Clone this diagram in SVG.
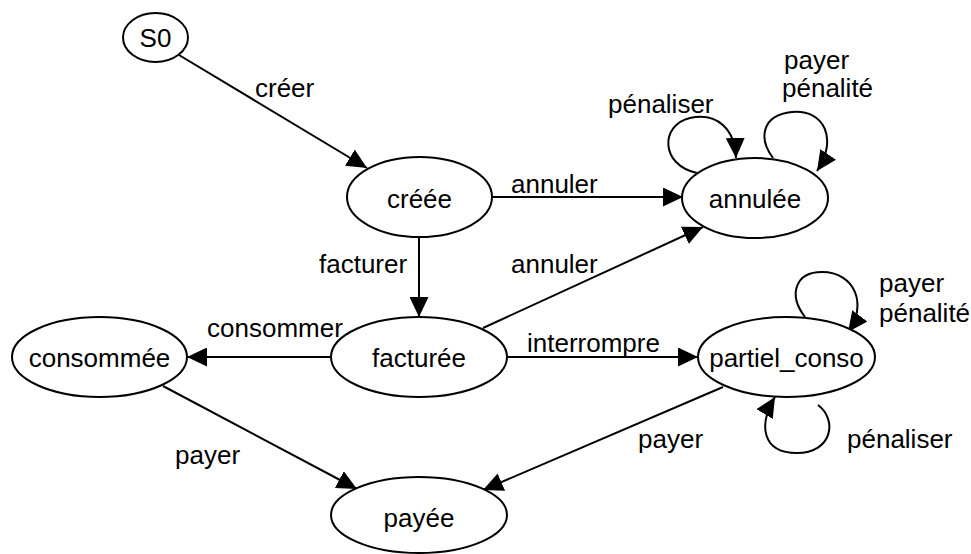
<svg xmlns="http://www.w3.org/2000/svg" width="971" height="554" viewBox="0 0 971 554">
<defs>
<style>
.n{fill:#fff;stroke:#000;stroke-width:2}
.t{font-family:"Liberation Sans",Arial,sans-serif;font-size:26px;fill:#000}
.c{text-anchor:middle}
.e{fill:none;stroke:#000;stroke-width:2;marker-end:url(#ah)}
</style>
<marker id="ah" markerUnits="userSpaceOnUse" markerWidth="20" markerHeight="19" refX="20" refY="9.5" orient="auto">
<path d="M0,0 L20,9.5 L0,19 z" fill="#000"/>
</marker>
</defs>
<rect width="971" height="554" fill="#fff"/>
<g id="connectors">
<path class="e" d="M179,55 L367,168"/>
<path class="e" d="M492,197 L683,197"/>
<path class="e" d="M419,237 L419,317"/>
<path class="e" d="M483,328 L703,227"/>
<path class="e" d="M331,357 L187,357"/>
<path class="e" d="M507,357 L698,357"/>
<path class="e" d="M163,386 L357,489"/>
<path class="e" d="M723,387 L483,490"/>
<path class="e" d="M697,173 C660,165 660,125 690,118 C718,112 735,130 736,158"/>
<path class="e" d="M773,158 C758,138 762,115 792,112 C825,109 838,140 817,171"/>
<path class="e" d="M805,317 C788,295 795,272 822,272 C855,272 868,305 848,332"/>
<path class="e" d="M818,405 C838,420 832,453 797,453 C762,453 758,425 775,397"/>
</g>
<g id="labels">
<text class="t" x="255" y="97">créer</text>
<text class="t" x="511" y="193">annuler</text>
<text class="t" x="319" y="273">facturer</text>
<text class="t" x="511" y="273">annuler</text>
<text class="t" x="207" y="337">consommer</text>
<text class="t" x="527" y="352">interrompre</text>
<text class="t" x="175" y="464">payer</text>
<text class="t" x="638" y="448">payer</text>
<text class="t" x="608" y="113">pénaliser</text>
<text class="t" x="784" y="69">payer</text>
<text class="t" x="782" y="97">pénalité</text>
<text class="t" x="879" y="292">payer</text>
<text class="t" x="879" y="322">pénalité</text>
<text class="t" x="847" y="448">pénaliser</text>
</g>
<g id="S0"><ellipse class="n" cx="155.5" cy="37.5" rx="32.5" ry="24.5"/><text class="t c" x="155.5" y="47">S0</text></g>
<g id="creee"><ellipse class="n" cx="419.5" cy="197" rx="72.5" ry="40"/><text class="t c" x="419.5" y="208">créée</text></g>
<g id="annulee"><ellipse class="n" cx="755" cy="198" rx="73" ry="40"/><text class="t c" x="755" y="208">annulée</text></g>
<g id="facturee"><ellipse class="n" cx="419" cy="357" rx="88" ry="40"/><text class="t c" x="419" y="367">facturée</text></g>
<g id="consommee"><ellipse class="n" cx="99.5" cy="357" rx="87.5" ry="40"/><text class="t c" x="99.5" y="367">consommée</text></g>
<g id="partiel_conso"><ellipse class="n" cx="786.5" cy="357" rx="88.5" ry="40"/><text class="t c" x="786.5" y="367">partiel_conso</text></g>
<g id="payee"><ellipse class="n" cx="419" cy="515" rx="88" ry="38"/><text class="t c" x="419" y="527">payée</text></g>
</svg>
